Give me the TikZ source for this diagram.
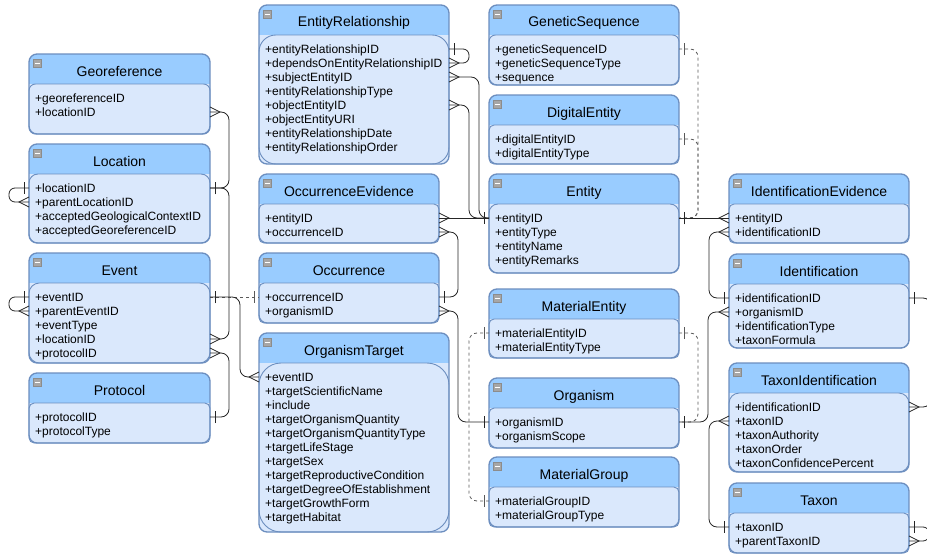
\documentclass[tikz,border=0pt]{standalone}
\usepackage{fontspec}
\setmainfont{Liberation Sans}
\usepackage{tikz}
\usetikzlibrary{positioning}

\definecolor{hdrblue}{HTML}{99CCFF}
\definecolor{bodyblue}{HTML}{DAE8FC}
\definecolor{lineblue}{HTML}{6C8EBF}

% crow's foot (many) and bar (one)
\pgfdeclarearrow{
  name = ermany,
  setup code = {
    \pgfarrowssettipend{0pt}
    \pgfarrowssetlineend{0pt}
    \pgfarrowssetbackend{-10pt}
  },
  drawing code = {
    \pgfsetdash{}{0pt}
    \pgfsetlinewidth{0.8pt}
    \pgfpathmoveto{\pgfqpoint{0pt}{5pt}}
    \pgfpathlineto{\pgfqpoint{-10pt}{0pt}}
    \pgfpathlineto{\pgfqpoint{0pt}{-5pt}}
    \pgfusepathqstroke
  }
}
\pgfdeclarearrow{
  name = erone,
  setup code = {
    \pgfarrowssettipend{0pt}
    \pgfarrowssetlineend{0pt}
    \pgfarrowssetbackend{-6pt}
  },
  drawing code = {
    \pgfsetdash{}{0pt}
    \pgfsetlinewidth{0.8pt}
    \pgfpathmoveto{\pgfqpoint{-5pt}{6pt}}
    \pgfpathlineto{\pgfqpoint{-5pt}{-6pt}}
    \pgfusepathqstroke
  }
}

% table: id, x, y, width, height, title, rows
\newcommand{\ertable}[7]{%
  \pgfmathsetlengthmacro{\erarc}{0.13*(#5-30)*1pt}
  \node[tblbox, minimum width=#4pt, minimum height=#5pt, anchor=north west] (#1) at (#2,#3) {};
  \begin{scope}
    \clip[rounded corners=8pt] (#1.north west) rectangle (#1.south east);
    \fill[hdrblue] (#1.north west) rectangle ([yshift=-30pt]#1.north east);
  \end{scope}
  \draw[bodybox, rounded corners=\erarc] ([yshift=-30pt]#1.north west) rectangle (#1.south east);
  \draw[tblline] (#1.north west) rectangle (#1.south east);
  \draw[iconbox] ([shift={(4pt,-5pt)}]#1.north west) rectangle ++(8pt,-8pt);
  \draw[white, line width=1pt] ([shift={(5.5pt,-9pt)}]#1.north west) -- ++(5pt,0pt);
  \node[titletext] (#1-t) at ([yshift=-22pt]#1.north) {#6};
  \foreach \fld [count=\ri] in {#7} {
    \coordinate (#1-l\ri) at ([yshift={-30pt-14pt*\ri}]#1.north west);
    \coordinate (#1-r\ri) at ([yshift={-30pt-14pt*\ri}]#1.north east);
    \node[rowtext] (#1-f\ri) at ([shift={(6pt,{-34pt-14pt*\ri})}]#1.north west) {\fld};
  }
}

\begin{document}
\begin{tikzpicture}[x=1pt, y=-1pt,
    tblbox/.style={fill=bodyblue, rounded corners=8pt, inner sep=0pt, outer sep=0pt},
    bodybox/.style={fill=bodyblue, draw=lineblue, line width=0.9pt},
    tblline/.style={draw=lineblue, line width=1.3pt, rounded corners=8pt},
    iconbox/.style={fill=black!35, draw=black!45, line width=0.4pt},
    titletext/.style={font=\fontsize{14}{16}\selectfont, anchor=base, inner sep=0pt},
    rowtext/.style={font=\fontsize{12}{14}\selectfont, anchor=base west, inner sep=0pt},
    conn/.style={draw=black!85, line width=0.8pt, rounded corners=8pt},
    dconn/.style={conn, draw=black!65, dash pattern=on 3pt off 3pt},
    selfrel/.style={conn, rounded corners=6pt}
  ]
\useasboundingbox (0,0) rectangle (927,554);
\clip (0,0) rectangle (927,554);

% Tables
\ertable{geo}{29}{54}{181}{80}{Georeference}{+georeferenceID,+locationID}
\ertable{loc}{29}{144}{181}{99}{Location}{+locationID,+parentLocationID,+acceptedGeologicalContextID,+acceptedGeoreferenceID}
\ertable{ev}{29}{253}{181}{110}{Event}{+eventID,+parentEventID,+eventType,+locationID,+protocolID}
\ertable{prot}{29}{373}{181}{70}{Protocol}{+protocolID,+protocolType}

\ertable{er}{259}{5}{190}{159}{EntityRelationship}{+entityRelationshipID,+dependsOnEntityRelationshipID,+subjectEntityID,+entityRelationshipType,+objectEntityID,+objectEntityURI,+entityRelationshipDate,+entityRelationshipOrder}
\ertable{oe}{259}{174}{180}{69}{OccurrenceEvidence}{+entityID,+occurrenceID}
\ertable{occ}{259}{253}{180}{70}{Occurrence}{+occurrenceID,+organismID}
\ertable{ot}{259}{333}{190}{199}{OrganismTarget}{+eventID,+targetScientificName,+include,+targetOrganismQuantity,+targetOrganismQuantityType,+targetLifeStage,+targetSex,+targetReproductiveCondition,+targetDegreeOfEstablishment,+targetGrowthForm,+targetHabitat}

\ertable{gs}{489}{5}{190}{80}{GeneticSequence}{+geneticSequenceID,+geneticSequenceType,+sequence}
\ertable{de}{489}{95}{190}{69}{DigitalEntity}{+digitalEntityID,+digitalEntityType}
\ertable{ent}{489}{174}{190}{99}{Entity}{+entityID,+entityType,+entityName,+entityRemarks}
\ertable{me}{489}{289}{190}{69}{MaterialEntity}{+materialEntityID,+materialEntityType}
\ertable{org}{489}{378}{190}{70}{Organism}{+organismID,+organismScope}
\ertable{mg}{489}{457}{190}{70}{MaterialGroup}{+materialGroupID,+materialGroupType}

\ertable{ie}{729}{174}{180}{69}{IdentificationEvidence}{+entityID,+identificationID}
\ertable{id}{729}{254}{180}{94}{Identification}{+identificationID,+organismID,+identificationType,+taxonFormula}
\ertable{ti}{729}{363}{180}{109}{TaxonIdentification}{+identificationID,+taxonID,+taxonAuthority,+taxonOrder,+taxonConfidencePercent}
\ertable{tx}{729}{483}{180}{70}{Taxon}{+taxonID,+parentTaxonID}

% Relations
\draw[conn, ermany-erone] (geo-r2) -- ([xshift=19pt]geo-r2) |- (loc-r1);
\draw[conn, ermany-erone] (ev-r4) -- ([xshift=19pt]ev-r4) |- (loc-r1);
\draw[conn, ermany-erone] (ev-r5) -- ([xshift=19pt]ev-r5) |- (prot-r1);
\draw[selfrel, erone-ermany] (loc-l1) -- ([xshift=-20pt]loc-l1) |- (loc-l2);
\draw[selfrel, erone-ermany] (ev-l1) -- ([xshift=-20pt]ev-l1) |- (ev-l2);
\draw[dconn, erone-erone] (ev-r1) -- (occ-l1);
\draw[conn, erone-ermany] (ev-r1) -- ([xshift=30pt]ev-r1) |- (ot-l1);

\draw[selfrel, erone-ermany] (er-r1) -- ([xshift=20pt]er-r1) |- (er-r2);
\draw[conn, ermany-erone] (er-r3) -- ([xshift=30pt]er-r3) |- (ent-l1);
\draw[conn, ermany-erone] (er-r5) -- ([xshift=20pt]er-r5) |- (ent-l1);
\draw[conn, ermany-erone] (oe-r1) -- (ent-l1);
\draw[conn, ermany-erone] (oe-r2) -- ([xshift=19pt]oe-r2) |- (occ-r1);
\draw[conn, ermany-erone] (occ-r2) -- ([xshift=19pt]occ-r2) |- (org-l1);

\draw[dconn, erone-erone] (me-l1) -- ([xshift=-20pt]me-l1) |- (mg-l1);
\draw[dconn, erone-erone] (me-r1) -- ([xshift=19pt]me-r1) |- (org-r1);
\draw[dconn, erone-erone] (gs-r1) -- ([xshift=19pt]gs-r1) |- (ent-r1);
\draw[dconn, erone-erone] (de-r1) -- ([xshift=19pt]de-r1) |- (ent-r1);

\draw[conn, erone-ermany] (ent-r1) -- (ie-l1);
\draw[conn, ermany-erone] (ie-l2) -- ([xshift=-20pt]ie-l2) |- (id-l1);
\draw[conn, erone-ermany] (org-r1) -- ([xshift=29pt]org-r1) |- (id-l2);
\draw[conn, ermany-erone] (ti-l2) -- ([xshift=-20pt]ti-l2) |- (tx-l1);
\draw[conn, erone-ermany] (id-r1) -- ([xshift=22pt]id-r1) |- (ti-r1);
\draw[selfrel, erone-ermany] (tx-r1) -- ([xshift=20pt]tx-r1) |- (tx-r2);

\end{tikzpicture}
\end{document}
